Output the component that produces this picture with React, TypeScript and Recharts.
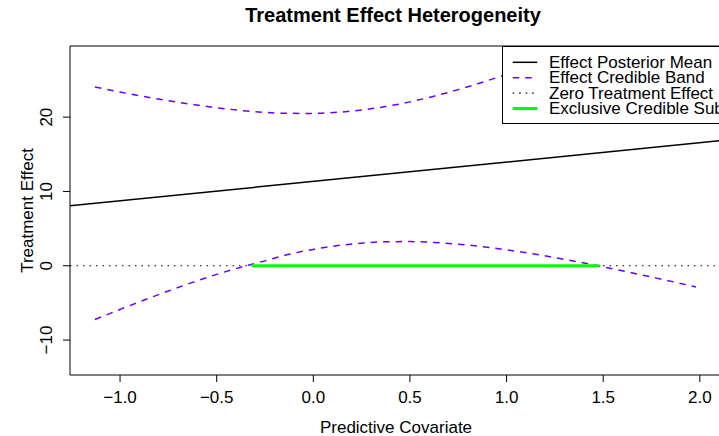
import { LineChart, Line, XAxis, YAxis, ReferenceLine, ReferenceArea } from "recharts";

// values
const covariate = [-1.13, -1.0, -0.875, -0.75, -0.625, -0.5, -0.375, -0.25, -0.125, 0, 0.125, 0.25, 0.375, 0.5, 0.625, 0.75, 0.875, 1.0, 1.125, 1.25, 1.375, 1.5, 1.625, 1.75, 1.875, 1.98];
const upperBand = [24.05, 23.38, 22.77, 22.2, 21.7, 21.26, 20.9, 20.64, 20.51, 20.5, 20.65, 20.96, 21.43, 22.05, 22.82, 23.7, 24.69, 25.76, 26.91, 28.11, 29.37, 30.65, 31.98, 33.32, 34.69, 35.86];
const lowerBand = [-7.23, -5.88, -4.61, -3.4, -2.24, -1.16, -0.2, 0.66, 1.55, 2.2, 2.71, 3.04, 3.23, 3.25, 3.14, 2.9, 2.57, 2.14, 1.65, 1.09, 0.49, -0.15, -0.82, -1.52, -2.23, -2.86];
const meanX = [-1.3, 2.2];
const meanY = [7.97, 17.07];
const subgroupX = [-0.32, 1.48];
const xTicks = [-1, -0.5, 0, 0.5, 1, 1.5, 2];
const yTicks = [-10, 0, 10, 20];

const bandData = covariate.map((x, i) => ({ x, upper: upperBand[i], lower: lowerBand[i] }));
const meanData = meanX.map((x, i) => ({ x, mean: meanY[i] }));
const subgroupData = subgroupX.map((x) => ({ x, sub: 0 }));

const PURPLE = "#6b00ff";
const FONT = "'Liberation Sans', Arial, Helvetica, sans-serif";
const X_DOMAIN: [number, number] = [-1.259, 2.125];
const Y_DOMAIN: [number, number] = [-14.7, 29.57];

const fmt = (v: number, digits: number) => (v < 0 ? "\u2212" : "") + Math.abs(v).toFixed(digits);

const XTick = ({ x, payload }: any) => (
  <text x={x} y={403} textAnchor="middle" fontSize={17} fill="#000" fontFamily={FONT}>
    {fmt(payload.value, 1)}
  </text>
);

const YTick = ({ y, payload }: any) => (
  <text x={52} y={y} transform={`rotate(-90, 52, ${y})`} textAnchor="middle" fontSize={17} fill="#000" fontFamily={FONT}>
    {fmt(payload.value, 0)}
  </text>
);

const legendRows = [
  { label: "Effect Posterior Mean", stroke: "#000", dash: undefined, width: 1.5 },
  { label: "Effect Credible Band", stroke: PURPLE, dash: "6.5 6", width: 1.5 },
  { label: "Zero Treatment Effect", stroke: "#000", dash: "1.5 5", width: 1.2 },
  { label: "Exclusive Credible Subgroup", stroke: "#00ff00", dash: undefined, width: 3 },
];

export default function App() {
  return (
    <div style={{ position: "fixed", left: 0, top: 0, width: 719, height: 436, overflow: "hidden", background: "#fff", fontFamily: FONT }}>
      <LineChart width={760} height={436} data={bandData} margin={{ top: 46, right: 36, bottom: 0, left: 0 }}>
        <XAxis
          dataKey="x"
          type="number"
          domain={X_DOMAIN}
          allowDataOverflow
          ticks={xTicks}
          interval={0}
          height={61}
          axisLine={false}
          tickLine={{ stroke: "#000" }}
          tickSize={7}
          tick={<XTick />}
        />
        <YAxis
          type="number"
          domain={Y_DOMAIN}
          allowDataOverflow
          ticks={yTicks}
          interval={0}
          width={70}
          axisLine={false}
          tickLine={{ stroke: "#000" }}
          tickSize={7}
          tick={<YTick />}
        />
        <ReferenceArea x1={X_DOMAIN[0]} x2={X_DOMAIN[1]} y1={Y_DOMAIN[0]} y2={Y_DOMAIN[1]} fill="none" stroke="#000" strokeWidth={1} fillOpacity={0} ifOverflow="visible" />
        <ReferenceLine y={0} stroke="#000" strokeWidth={1.2} strokeDasharray="1.5 5" />
        <Line data={meanData} dataKey="mean" stroke="#000" strokeWidth={1.5} dot={false} isAnimationActive={false} />
        <Line dataKey="upper" type="monotone" stroke={PURPLE} strokeWidth={1.5} strokeDasharray="6.5 6" dot={false} isAnimationActive={false} />
        <Line dataKey="lower" type="monotone" stroke={PURPLE} strokeWidth={1.5} strokeDasharray="6.5 6" dot={false} isAnimationActive={false} />
        <Line data={subgroupData} dataKey="sub" stroke="#00ff00" strokeWidth={3} dot={false} isAnimationActive={false} />
      </LineChart>

      {/* titles and legend drawn over the plot, like R's legend box */}
      <svg width={719} height={436} style={{ position: "absolute", left: 0, top: 0, pointerEvents: "none" }}>
        <text x={393} y={22} textAnchor="middle" fontSize={20} fontWeight={700} fill="#000" fontFamily={FONT}>
          Treatment Effect Heterogeneity
        </text>
        <text x={396} y={432.5} textAnchor="middle" fontSize={17} fill="#000" fontFamily={FONT}>
          Predictive Covariate
        </text>
        <text x={33} y={210.5} transform="rotate(-90, 33, 210.5)" textAnchor="middle" fontSize={17} fill="#000" fontFamily={FONT}>
          Treatment Effect
        </text>

        <rect x={502.5} y={46.5} width={300} height={77} fill="#fff" stroke="#000" strokeWidth={1} />
        {legendRows.map((row, i) => {
          const cy = 62.3 + i * 15.4;
          return (
            <g key={row.label}>
              <line x1={512.7} x2={537.3} y1={cy} y2={cy} stroke={row.stroke} strokeWidth={row.width} strokeDasharray={row.dash} />
              <text x={549} y={cy + 5.7} fontSize={17} fill="#000" fontFamily={FONT}>
                {row.label}
              </text>
            </g>
          );
        })}
      </svg>
    </div>
  );
}
